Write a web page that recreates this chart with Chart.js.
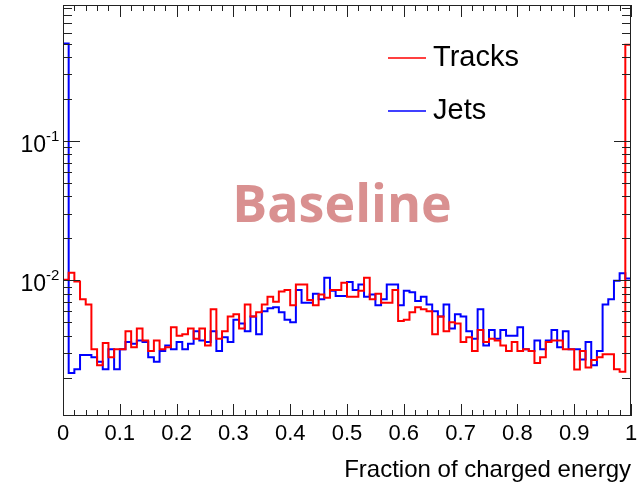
<!DOCTYPE html>
<html>
<head>
<meta charset="utf-8">
<script src="https://cdn.jsdelivr.net/npm/chart.js@4/dist/chart.umd.min.js"></script>
<style>
  html, body { margin: 0; padding: 0; background: #fff; }
  #wrap { width: 642px; height: 486px; }
</style>
</head>
<body>
<div id="wrap"><canvas id="chart" width="642" height="486"></canvas></div>
<script>
// histogram: 100 bins between 0 and 1
const nBins = 100;
const xRange = [0, 1];
const yRange = [0.00106, 0.946];

const tracks = [
  0.0101, 0.0113, 0.0098, 0.0073, 0.0067, 0.0032, 0.00245, 0.00355, 0.0028, 0.0032,
  0.0032, 0.0043, 0.0033, 0.0045, 0.0037, 0.0031, 0.0037, 0.0032, 0.0033, 0.0046,
  0.0040, 0.0041, 0.0045, 0.0038, 0.0045, 0.0034, 0.0062, 0.0038, 0.0043, 0.0055,
  0.0057, 0.0045, 0.0067, 0.0055, 0.0059, 0.0067, 0.0076, 0.0070, 0.0083, 0.0085,
  0.0066, 0.0093, 0.0093, 0.0072, 0.0066, 0.0079, 0.0075, 0.0085, 0.0085, 0.0096,
  0.0076, 0.0076, 0.0084, 0.0104, 0.0073, 0.0080, 0.0069, 0.0069, 0.0085, 0.0051,
  0.0052, 0.0059, 0.0064, 0.0062, 0.0060, 0.0041, 0.0055, 0.0043, 0.0050, 0.0049,
  0.0036, 0.0039, 0.0031, 0.0044, 0.0036, 0.0038, 0.0037, 0.0034, 0.0031, 0.0036,
  0.0031, 0.0032, 0.0031, 0.00255, 0.0028, 0.0036, 0.0037, 0.0037, 0.0032, 0.0032,
  0.00229, 0.0031, 0.00236, 0.00267, 0.0028, 0.00294, 0.00294, 0.0023, 0.0022, 0.49
];

const jets = [
  0.50, 0.00216, 0.0023, 0.0029, 0.0029, 0.0028, 0.0026, 0.0023, 0.0032, 0.0023,
  0.0032, 0.0036, 0.0035, 0.0037, 0.0036, 0.0028, 0.0026, 0.0031, 0.0034, 0.0032,
  0.0036, 0.0032, 0.0035, 0.0043, 0.0037, 0.0036, 0.0043, 0.0031, 0.0039, 0.0036,
  0.0052, 0.0049, 0.0043, 0.0055, 0.0041, 0.0060, 0.0063, 0.0064, 0.0059, 0.0052,
  0.0050, 0.0085, 0.0069, 0.0069, 0.0080, 0.0073, 0.0104, 0.0084, 0.0077, 0.0077,
  0.0097, 0.0085, 0.0093, 0.0076, 0.0079, 0.0066, 0.0073, 0.0093, 0.0093, 0.0066,
  0.0084, 0.0082, 0.0071, 0.0076, 0.0067, 0.0060, 0.0055, 0.0067, 0.0045, 0.0057,
  0.0055, 0.0043, 0.0038, 0.0062, 0.0034, 0.0044, 0.0038, 0.0044, 0.0040, 0.0040,
  0.0046, 0.0032, 0.0031, 0.0037, 0.0032, 0.0037, 0.0044, 0.0033, 0.0043, 0.0032,
  0.0032, 0.0027, 0.0036, 0.00245, 0.0031, 0.0067, 0.0073, 0.0099, 0.0112, 0.0103
];

const xTickLabels = ['0', '0.1', '0.2', '0.3', '0.4', '0.5', '0.6', '0.7', '0.8', '0.9', '1'];
const yTickValues = [0.01, 0.1];
const yTickExp = ['-2', '-1'];

const FONT = '"Liberation Sans", Arial, sans-serif';

// step outline: value of bin i is held from its left edge to the next edge
function histPoints(values) {
  const w = (xRange[1] - xRange[0]) / nBins;
  const pts = values.map((v, i) => ({x: xRange[0] + i * w, y: v}));
  pts.push({x: xRange[1], y: values[values.length - 1]});
  return pts;
}

const rootFrame = {
  id: 'rootFrame',
  afterDatasetsDraw(chart) {
    const {ctx, chartArea: a, scales: {x, y}} = chart;
    ctx.save();
    ctx.strokeStyle = '#222';
    ctx.lineWidth = 1;
    ctx.strokeRect(a.left + 0.5, a.top + 0.5, a.right - a.left - 1, a.bottom - a.top - 1);

    ctx.beginPath();
    // x ticks, top and bottom, pointing inward
    for (let i = 0; i <= 50; i++) {
      const px = Math.round(x.getPixelForValue(i * 0.02)) + 0.5;
      const len = i % 5 === 0 ? 12 : 6;
      ctx.moveTo(px, a.bottom); ctx.lineTo(px, a.bottom - len);
      ctx.moveTo(px, a.top); ctx.lineTo(px, a.top + len);
    }
    // y ticks, left and right
    for (let e = -3; e <= -1; e++) {
      for (let k = 1; k <= 9; k++) {
        const v = k * Math.pow(10, e);
        if (v < yRange[0] || v > yRange[1]) continue;
        const py = Math.round(y.getPixelForValue(v)) + 0.5;
        const len = k === 1 ? 17 : 9;
        ctx.moveTo(a.left, py); ctx.lineTo(a.left + len, py);
        ctx.moveTo(a.right, py); ctx.lineTo(a.right - len, py);
      }
    }
    ctx.stroke();

    // x tick labels
    ctx.fillStyle = '#000';
    ctx.font = '22px ' + FONT;
    ctx.textAlign = 'center';
    ctx.textBaseline = 'alphabetic';
    xTickLabels.forEach(t => {
      ctx.fillText(t, x.getPixelForValue(parseFloat(t)), a.bottom + 24);
    });

    // y tick labels 10^n
    yTickValues.forEach((v, i) => {
      const py = y.getPixelForValue(v);
      ctx.font = '15px ' + FONT;
      ctx.textAlign = 'left';
      ctx.fillText(yTickExp[i], 46, py);
      ctx.font = '23px ' + FONT;
      ctx.textAlign = 'right';
      ctx.fillText('10', 46, py + 11);
    });

    // axis title
    ctx.font = '24px ' + FONT;
    ctx.textAlign = 'right';
    ctx.fillText('Fraction of charged energy', a.right, 477);

    // legend
    chart.data.datasets.forEach((ds, i) => {
      const ly = 58 + i * 53;
      ctx.strokeStyle = ds.borderColor;
      ctx.lineWidth = 1.5;
      ctx.beginPath();
      ctx.moveTo(388, ly); ctx.lineTo(426, ly);
      ctx.stroke();
      ctx.fillStyle = '#000';
      ctx.font = '29px ' + FONT;
      ctx.textAlign = 'left';
      ctx.textBaseline = 'middle';
      ctx.fillText(ds.label, 433, ly);
    });

    // watermark
    ctx.fillStyle = '#d99090';
    ctx.font = 'bold 52px "Open Sans", sans-serif';
    ctx.textAlign = 'center';
    ctx.textBaseline = 'middle';
    ctx.fillText('Baseline', 342, 207);
    ctx.restore();
  }
};

new Chart(document.getElementById('chart'), {
  type: 'line',
  data: {
    datasets: [
      {label: 'Tracks', data: histPoints(tracks), borderColor: '#ff0000'},
      {label: 'Jets', data: histPoints(jets), borderColor: '#0000ff'}
    ]
  },
  options: {
    responsive: false,
    animation: false,
    layout: {padding: {left: 63, right: 11, top: 5, bottom: 70}},
    elements: {
      line: {borderWidth: 2, stepped: true, tension: 0},
      point: {radius: 0}
    },
    scales: {
      x: {type: 'linear', min: xRange[0], max: xRange[1], display: false},
      y: {type: 'logarithmic', min: yRange[0], max: yRange[1], display: false}
    },
    plugins: {
      legend: {display: false},
      tooltip: {enabled: false}
    }
  },
  plugins: [rootFrame]
});
</script>
</body>
</html>
